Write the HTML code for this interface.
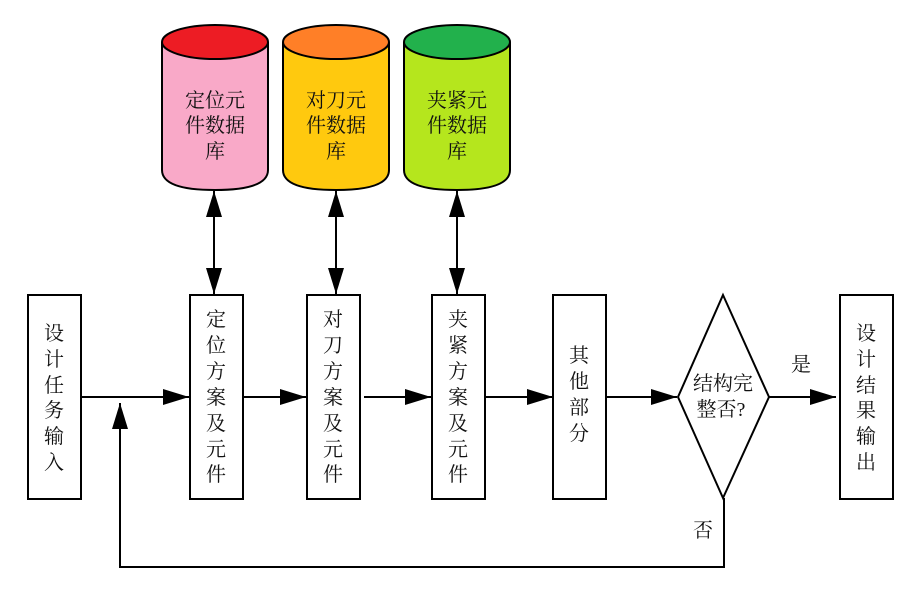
<!DOCTYPE html>
<html><head><meta charset="utf-8"><style>
html,body{margin:0;padding:0;background:#fff;}
svg text{font-family:"Liberation Serif","Noto Serif CJK SC",serif;font-size:20px;fill:#111;}
</style></head><body>
<svg width="913" height="591" viewBox="0 0 913 591" xmlns="http://www.w3.org/2000/svg">
<defs>
<marker id="a" markerWidth="26" markerHeight="16" refX="26" refY="8" orient="auto" markerUnits="userSpaceOnUse">
<path d="M0,0 L26,8 L0,16 Z" fill="#000"/></marker>
<marker id="as" markerWidth="26" markerHeight="16" refX="26" refY="8" orient="auto-start-reverse" markerUnits="userSpaceOnUse">
<path d="M0,0 L26,8 L0,16 Z" fill="#000"/></marker>
</defs>
<g stroke="#000" stroke-width="2">
<!-- cylinders -->
<path d="M162,42 V170 Q162,190 215,190 Q268,190 268,170 V42" fill="#f9a9c8"/>
<ellipse cx="215" cy="42" rx="53" ry="17" fill="#ed1c24"/>
<path d="M283,42 V170 Q283,190 336,190 Q389,190 389,170 V42" fill="#ffc90e"/>
<ellipse cx="336" cy="42" rx="53" ry="17" fill="#ff7f27"/>
<path d="M404,42 V170 Q404,190 457,190 Q510,190 510,170 V42" fill="#b5e61d"/>
<ellipse cx="457" cy="42" rx="53" ry="17" fill="#22b14c"/>
<!-- boxes -->
<rect x="28" y="295" width="53" height="204" fill="#fff"/>
<rect x="190" y="295" width="53" height="204" fill="#fff"/>
<rect x="307" y="295" width="53" height="204" fill="#fff"/>
<rect x="432" y="295" width="53" height="204" fill="#fff"/>
<rect x="553" y="295" width="53" height="204" fill="#fff"/>
<polygon points="723,295 769,397 723,498 678,397" fill="#fff"/>
<rect x="840" y="295" width="53" height="204" fill="#fff"/>
<!-- connectors -->
<line x1="214" y1="191" x2="214" y2="294" marker-start="url(#as)" marker-end="url(#a)"/>
<line x1="336" y1="191" x2="336" y2="294" marker-start="url(#as)" marker-end="url(#a)"/>
<line x1="457" y1="191" x2="457" y2="294" marker-start="url(#as)" marker-end="url(#a)"/>
<line x1="81" y1="397" x2="189" y2="397" marker-end="url(#a)"/>
<line x1="243" y1="397" x2="306" y2="397" marker-end="url(#a)"/>
<line x1="364" y1="397" x2="431" y2="397" marker-end="url(#a)"/>
<line x1="485" y1="397" x2="553" y2="397" marker-end="url(#a)"/>
<line x1="606" y1="397" x2="677" y2="397" marker-end="url(#a)"/>
<line x1="769" y1="397" x2="836" y2="397" marker-end="url(#a)"/>
<polyline points="724,498 724,567 120,567 120,403" fill="none" marker-end="url(#a)"/>
</g>
<!-- cylinder text -->
<g text-anchor="middle">
<text x="215" y="107">定位元</text><text x="215" y="132">件数据</text><text x="215" y="158">库</text>
<text x="336" y="107">对刀元</text><text x="336" y="132">件数据</text><text x="336" y="158">库</text>
<text x="457" y="107">夹紧元</text><text x="457" y="132">件数据</text><text x="457" y="158">库</text>
</g>
<g text-anchor="middle">
<text x="54" y="340">设</text><text x="54" y="366">计</text><text x="54" y="392">任</text><text x="54" y="417">务</text><text x="54" y="443">输</text><text x="54" y="469">入</text>
<text x="216" y="326">定</text><text x="216" y="352">位</text><text x="216" y="378">方</text><text x="216" y="404">案</text><text x="216" y="430">及</text><text x="216" y="456">元</text><text x="216" y="481">件</text>
<text x="333" y="326">对</text><text x="333" y="352">刀</text><text x="333" y="378">方</text><text x="333" y="404">案</text><text x="333" y="430">及</text><text x="333" y="456">元</text><text x="333" y="481">件</text>
<text x="458" y="326">夹</text><text x="458" y="352">紧</text><text x="458" y="378">方</text><text x="458" y="404">案</text><text x="458" y="430">及</text><text x="458" y="456">元</text><text x="458" y="481">件</text>
<text x="579" y="362">其</text><text x="579" y="388">他</text><text x="579" y="414">部</text><text x="579" y="440">分</text>
<text x="723" y="390">结构完</text><text x="721" y="416">整否?</text>
<text x="866" y="340">设</text><text x="866" y="366">计</text><text x="866" y="392">结</text><text x="866" y="417">果</text><text x="866" y="443">输</text><text x="866" y="469">出</text>
<text x="801" y="371">是</text>
<text x="703" y="537">否</text>
</g>
</svg>
</body></html>
